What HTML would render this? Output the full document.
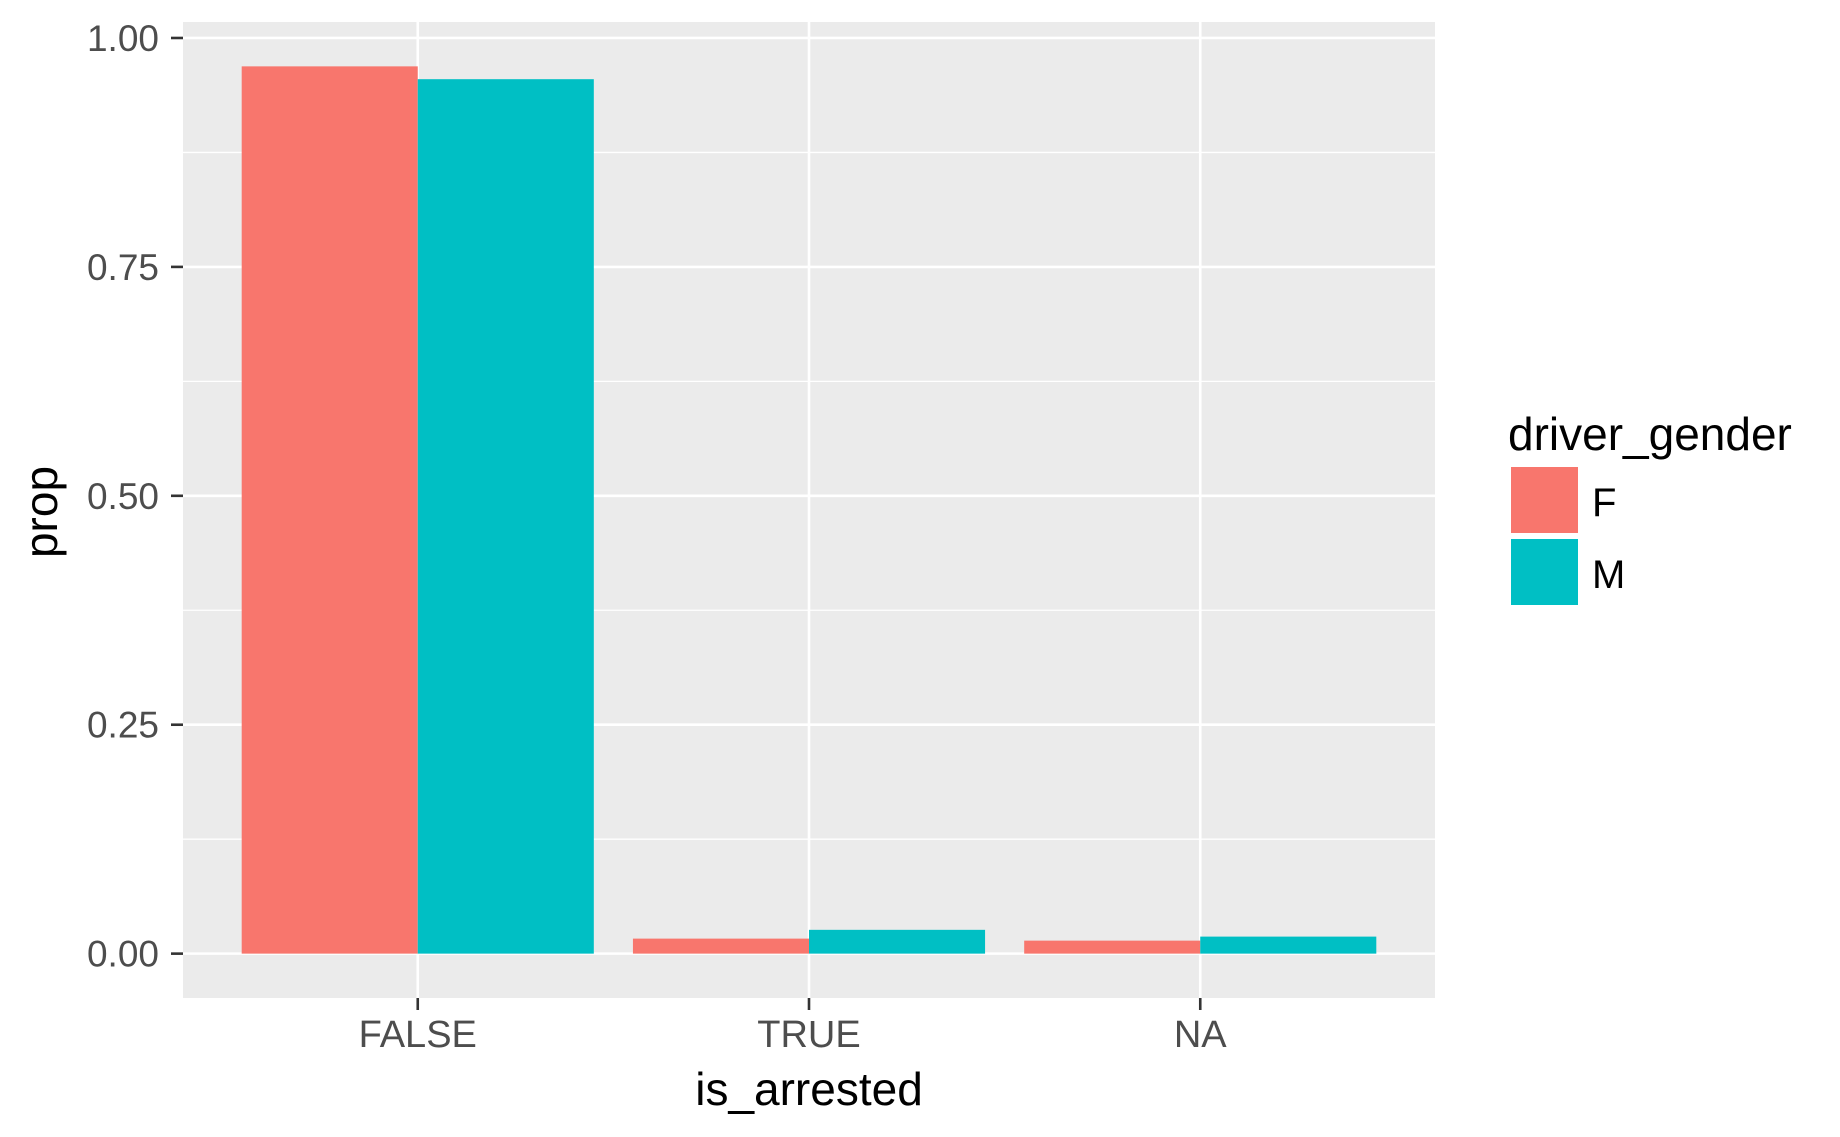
<!DOCTYPE html>
<html><head><meta charset="utf-8"><style>
html,body{margin:0;padding:0;background:#fff}
svg{display:block;font-family:"Liberation Sans",Arial,sans-serif}
</style></head><body>
<svg id="chart" width="1840" height="1137" viewBox="0 0 1840 1137" xmlns="http://www.w3.org/2000/svg">
<rect x="0" y="0" width="1840" height="1137" fill="#fff"/>
<g id="plot"></g>
</svg>
<script>
const categories = ["FALSE", "TRUE", "NA"];
const seriesNames = ["F", "M"];
const valuesF = [0.969, 0.0164, 0.0142];
const valuesM = [0.955, 0.026, 0.0186];
const yTicks = [0, 0.25, 0.5, 0.75, 1.0];
const yTickLabels = ["0.00", "0.25", "0.50", "0.75", "1.00"];
const yMinor = [0.125, 0.375, 0.625, 0.875];

const colors = ["#F8766D", "#00BFC4"];
const P = {left:183, right:1435, top:22, bottom:998};
const ns = "http://www.w3.org/2000/svg";
const g = document.getElementById('plot');
const allVals = valuesF.concat(valuesM);
const vmax = Math.max(...allVals);
const ylo = -0.05*vmax, yhi = vmax*1.05;
const y = v => P.bottom - (v - ylo)/(yhi - ylo)*(P.bottom - P.top);
const x = i => P.left + ((i + 1) - 0.4)/3.2*(P.right - P.left);
const band = (P.right - P.left)/3.2;
function mk(tag, attrs, parent){const e=document.createElementNS(ns,tag);for(const k in attrs)e.setAttribute(k,attrs[k]);(parent||g).appendChild(e);return e;}

const panel = mk('rect',{x:P.left,y:P.top,width:P.right-P.left,height:P.bottom-P.top,fill:'#EBEBEB'});


yMinor.forEach(v=>{const l=mk('line',{x1:P.left,x2:P.right,y1:y(v),y2:y(v),stroke:'#fff','stroke-width':1.3});

});
yTicks.forEach((v,i)=>{const l=mk('line',{x1:P.left,x2:P.right,y1:y(v),y2:y(v),stroke:'#fff','stroke-width':2.6});


const t=mk('line',{x1:171,x2:P.left,y1:y(v),y2:y(v),stroke:'#333','stroke-width':2.6});


const tx=mk('text',{x:159,y:y(v)+13,'text-anchor':'end','font-size':37,fill:'#4D4D4D'});
tx.textContent=yTickLabels[i];

});
categories.forEach((c,i)=>{const l=mk('line',{x1:x(i),x2:x(i),y1:P.top,y2:P.bottom,stroke:'#fff','stroke-width':2.6});


const t=mk('line',{x1:x(i),x2:x(i),y1:P.bottom,y2:P.bottom+12,stroke:'#333','stroke-width':2.6});


const tx=mk('text',{x:x(i),y:1047,'text-anchor':'middle','font-size':38,fill:'#4D4D4D'});
tx.textContent=c;

});
const w = band*0.45;
[valuesF, valuesM].forEach((vals,s)=>{vals.forEach((v,i)=>{
const x0 = x(i) - band*0.45 + s*w;
const r=mk('rect',{x:x0,y:y(v),width:w,height:y(0)-y(v),fill:colors[s]});

});});

const xt=mk('text',{x:(P.left+P.right)/2,y:1105,'text-anchor':'middle','font-size':46,fill:'#000'});
xt.textContent='is_arrested';


const yt=mk('text',{x:0,y:0,'text-anchor':'middle','font-size':46,fill:'#000',transform:'translate(57,512) rotate(-90)'});
yt.textContent='prop';



const lt=mk('text',{x:1508,y:450,'font-size':46,fill:'#000'});
lt.textContent='driver_gender';


seriesNames.forEach((n,s)=>{const ky=467+s*72;
const k=mk('rect',{x:1511,y:ky,width:67,height:66,fill:colors[s]});


const tx=mk('text',{x:1592,y:ky+49,'font-size':40,fill:'#000'});
tx.textContent=n;

});
</script>
</body></html>
